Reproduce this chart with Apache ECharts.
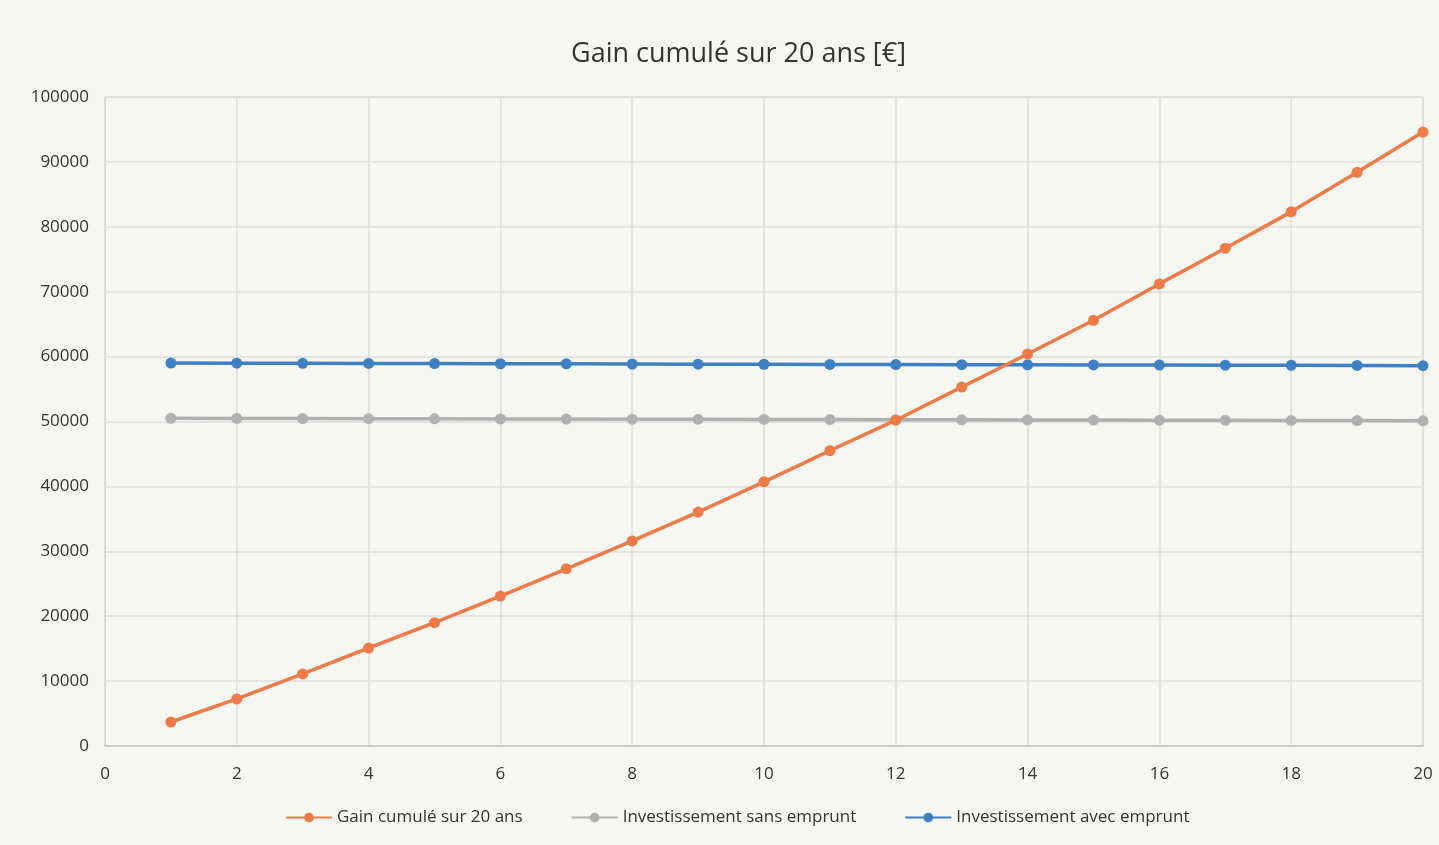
<!DOCTYPE html>
<html><head><meta charset="utf-8">
<script src="https://cdn.jsdelivr.net/npm/echarts@6/dist/echarts.min.js"></script>
<style>html,body{margin:0;padding:0;background:#f6f6f2;}#c{width:1439px;height:845px;}</style>
</head><body><div id="c"></div>
<script>
const years = [1,2,3,4,5,6,7,8,9,10,11,12,13,14,15,16,17,18,19,20];
const gainCumule = [3700,7250,11100,15100,19000,23100,27300,31600,36050,40700,45500,50200,55300,60400,65600,71200,76700,82300,88400,94600];
const sansEmprunt = [50500,50480,50460,50440,50420,50400,50380,50360,50340,50320,50300,50280,50260,50240,50220,50200,50180,50160,50140,50100];
const avecEmprunt = [59000,58980,58960,58940,58920,58900,58880,58860,58840,58820,58800,58780,58760,58740,58720,58700,58680,58660,58640,58600];
const seriesNames = ['Gain cumulé sur 20 ans','Investissement sans emprunt','Investissement avec emprunt'];
const colors = ['#ee7b47','#b0b0b0','#3f7fc4'];

const chart = echarts.init(document.getElementById('c'));
const mk = (name, data, color) => ({
  name, type:'line', data: years.map((x,i)=>[x,data[i]]),
  symbol:'circle', symbolSize:11, lineStyle:{width:3.5,color}, itemStyle:{color}, z: name===seriesNames[0]?3:2
});
chart.setOption({
  backgroundColor:'#f6f6f2',
  color: colors,
  title:{text:'Gain cumulé sur 20 ans [€]', left:566, top:36, textStyle:{fontFamily:'Open Sans', fontSize:27, fontWeight:'normal', color:'#333'}},
  grid:{left:105, right:16, top:97, bottom:99, show:true, borderColor:'#dcdcdc', borderWidth:1.5, backgroundColor:'transparent'},
  xAxis:{type:'value', min:0, max:20, interval:2,
    axisLine:{lineStyle:{color:'#c8c8c8', width:1.5}}, axisTick:{show:false},
    axisLabel:{fontFamily:'Open Sans', fontSize:17, color:'#333', margin:20},
    splitLine:{show:true, lineStyle:{color:'#dcdcdc', width:1.5}}},
  yAxis:{type:'value', min:0, max:100000, interval:10000,
    axisLine:{show:true, lineStyle:{color:'#d8d8d8'}}, axisTick:{show:false},
    axisLabel:{fontFamily:'Open Sans', fontSize:17, color:'#333', margin:16, formatter:v=>String(v)},
    splitLine:{show:true, lineStyle:{color:'#dcdcdc', width:1.5}}},
  legend:{bottom:14, left:280, itemGap:48, itemWidth:46, itemHeight:12,
    textStyle:{fontFamily:'Open Sans', fontSize:17, color:'#333'}, data:seriesNames},
  series:[mk(seriesNames[0],gainCumule,colors[0]), mk(seriesNames[1],sansEmprunt,colors[1]), mk(seriesNames[2],avecEmprunt,colors[2])]
});
</script></body></html>
